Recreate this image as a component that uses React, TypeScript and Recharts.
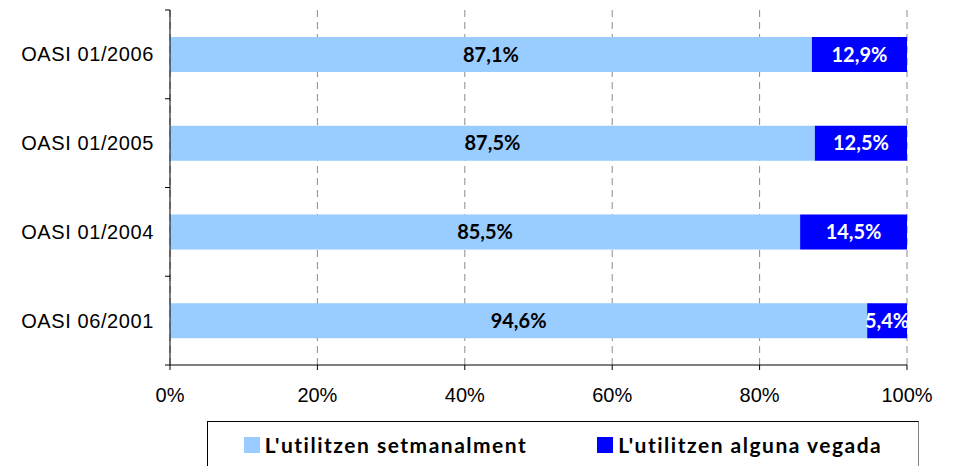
import { Bar, BarChart, CartesianGrid, LabelList, Legend, XAxis, YAxis } from 'recharts'

const categories = ['OASI 01/2006', 'OASI 01/2005', 'OASI 01/2004', 'OASI 06/2001']
const weeklyValues = [87.1, 87.5, 85.5, 94.6]
const sometimesValues = [12.9, 12.5, 14.5, 5.4]
const xTicks = [0, 20, 40, 60, 80, 100]
const seriesNames = ["L'utilitzen setmanalment", "L'utilitzen alguna vegada"]

const data = categories.map((name, i) => ({
  name,
  weekly: weeklyValues[i],
  sometimes: sometimesValues[i],
}))

const LIGHT = '#99CCFF'
const DARK = '#0000FF'

const PLOT_TOP = 10
const PLOT_BOTTOM = 365
const AXIS_X = 170
const BAND = (PLOT_BOTTOM - PLOT_TOP) / categories.length

const pct = (v: any) => Number(v).toFixed(1).replace('.', ',') + '%'

function CategoryTick(props: any) {
  const { x, y, payload, index } = props
  return (
    <g>
      <line x1={AXIS_X - 5} x2={AXIS_X} y1={y - BAND / 2} y2={y - BAND / 2} stroke="#000" />
      {index === categories.length - 1 && (
        <line x1={AXIS_X - 5} x2={AXIS_X} y1={y + BAND / 2} y2={y + BAND / 2} stroke="#000" />
      )}
      <text
        x={x}
        y={y}
        dy="0.35em"
        textAnchor="end"
        fontFamily="'Liberation Sans', Arial, sans-serif"
        fontSize={20}
        letterSpacing={0.6}
        fill="#000"
      >
        {payload.value}
      </text>
    </g>
  )
}

function LegendBox() {
  const colors = [LIGHT, DARK]
  return (
    <div
      style={{
        boxSizing: 'border-box',
        height: 46,
        width: 712,
        borderTop: '1px solid #000',
        borderLeft: '1px solid #000',
        borderRight: '1px solid #808080',
        display: 'flex',
        alignItems: 'center',
        justifyContent: 'center',
        gap: 70,
        fontFamily: 'Lato, sans-serif',
        fontWeight: 'bold',
        fontSize: 21,
        letterSpacing: 1.5,
        color: '#000',
      }}
    >
      {seriesNames.map((n, i) => (
        <div key={n} style={{ display: 'flex', alignItems: 'center', gap: 5 }}>
          <span style={{ width: 16, height: 16, background: colors[i], display: 'inline-block' }} />
          <span>{n}</span>
        </div>
      ))}
    </div>
  )
}

export default function App() {
  return (
    <div style={{ position: 'absolute', left: 0, top: 0, background: '#fff' }}>
      <BarChart
        width={953}
        height={466}
        data={data}
        layout="vertical"
        margin={{ top: PLOT_TOP, right: 46, left: 0, bottom: 0 }}
      >
        <CartesianGrid horizontal={false} stroke="#8c8c8c" strokeDasharray="7 5" />
        <XAxis
          type="number"
          domain={[0, 100]}
          ticks={xTicks}
          tickFormatter={(v) => v + '%'}
          height={55}
          tickSize={5}
          tickMargin={18}
          stroke="#000"
          tick={{ fill: '#000', fontSize: 20, fontFamily: "'Liberation Sans', Arial, sans-serif" }}
        />
        <YAxis
          type="category"
          dataKey="name"
          width={AXIS_X}
          stroke="#000"
          tickLine={false}
          tickSize={5}
          tickMargin={11}
          tick={<CategoryTick />}
        />
        <Legend
          verticalAlign="bottom"
          content={() => <LegendBox />}
          wrapperStyle={{ left: 207, top: 421, width: 712, height: 46 }}
        />
        <Bar dataKey="weekly" stackId="a" fill={LIGHT} barSize={35} isAnimationActive={false}>
          <LabelList
            dataKey="weekly"
            position="center"
            formatter={pct}
            fill="#000"
            fontSize={20}
            fontWeight="bold"
            fontFamily="Lato, sans-serif"
          />
        </Bar>
        <Bar dataKey="sometimes" stackId="a" fill={DARK} barSize={35} isAnimationActive={false}>
          <LabelList
            dataKey="sometimes"
            position="center"
            formatter={pct}
            fill="#fff"
            fontSize={20}
            fontWeight="bold"
            fontFamily="Lato, sans-serif"
          />
        </Bar>
      </BarChart>
    </div>
  )
}
